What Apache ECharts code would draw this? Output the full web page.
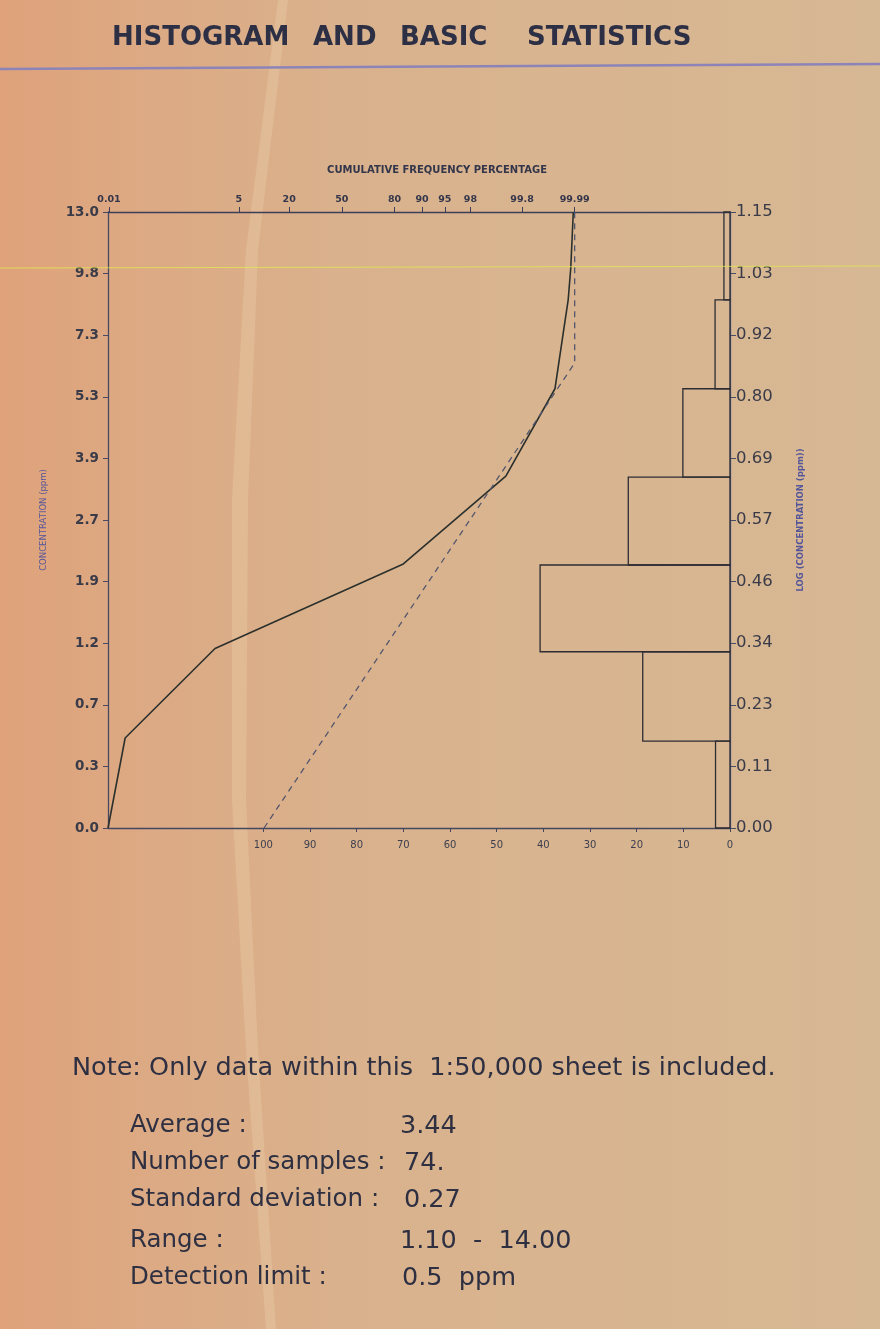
<!DOCTYPE html>
<html>
<head>
<meta charset="utf-8">
<script src="https://cdn.jsdelivr.net/npm/echarts@6/dist/echarts.min.js"></script>
<style>
html,body{margin:0;padding:0;background:#d9b08c;}
#chart{width:880px;height:1329px;}
</style>
</head>
<body>
<div id="chart"></div>
<script>
// ---------- data ----------
// top axis: cumulative frequency percentage (probability scale)
const topTickLabels = ['0.01', '5', '20', '50', '80', '90', '95', '98', '99.8', '99.99'];
const topTickPct    = [0.01, 5, 20, 50, 80, 90, 95, 98, 99.8, 99.99];
// left axis: concentration (ppm), right axis: log(concentration)
const concLabels = ['0.0', '0.3', '0.7', '1.2', '1.9', '2.7', '3.9', '5.3', '7.3', '9.8', '13.0'];
const logLabels  = ['0.00', '0.11', '0.23', '0.34', '0.46', '0.57', '0.69', '0.80', '0.92', '1.03', '1.15'];
// bottom axis: frequency percentage
const freqTicks = [0, 10, 20, 30, 40, 50, 60, 70, 80, 90, 100];
// histogram bins (log concentration) and frequency percentages
const binEdges   = [0, 0.162, 0.329, 0.491, 0.655, 0.820, 0.986, 1.15];
const binPercent = [3.1, 18.7, 40.7, 21.8, 10.1, 3.2, 1.3];
// solid cumulative curve: cumulative % vs log concentration
const solidPct = [0.0094, 0.0269, 2.14, 83.7, 99.56, 99.9668, 99.9797, 99.985, 99.9872, 99.9891];
const solidLog = [0, 0.168, 0.335, 0.493, 0.657, 0.820, 0.924, 0.986, 1.045, 1.15];
// dashed (fitted) cumulative line
const dashPct = [10.7, 99.99, 99.99];
const dashLog = [0, 0.868, 1.15];
// statistics
const statLabels = ['Average :', 'Number of samples :', 'Standard deviation :', 'Range :', 'Detection limit :'];
const statValues = ['3.44', '74.', '0.27', '1.10  -  14.00', '0.5  ppm'];

// inverse standard normal (probability-paper scale)
function probit(pp) {
  const p = pp / 100;
  const a = [-3.969683028665376e+01, 2.209460984245205e+02, -2.759285104469687e+02, 1.383577518672690e+02, -3.066479806614716e+01, 2.506628277459239e+00];
  const b = [-5.447609879822406e+01, 1.615858368580409e+02, -1.556989798598866e+02, 6.680131188771972e+01, -1.328068155288572e+01];
  const c = [-7.784894002430293e-03, -3.223964580411365e-01, -2.400758277161838e+00, -2.549732539343734e+00, 4.374664141464968e+00, 2.938163982698783e+00];
  const d = [7.784695709041462e-03, 3.224671290700398e-01, 2.445134137142996e+00, 3.754408661907416e+00];
  const pl = 0.02425;
  if (p < pl) {
    const q = Math.sqrt(-2 * Math.log(p));
    return (((((c[0]*q+c[1])*q+c[2])*q+c[3])*q+c[4])*q+c[5]) / ((((d[0]*q+d[1])*q+d[2])*q+d[3])*q+1);
  }
  if (p > 1 - pl) {
    const q = Math.sqrt(-2 * Math.log(1 - p));
    return -(((((c[0]*q+c[1])*q+c[2])*q+c[3])*q+c[4])*q+c[5]) / ((((d[0]*q+d[1])*q+d[2])*q+d[3])*q+1);
  }
  const q = p - 0.5, r = q * q;
  return (((((a[0]*r+a[1])*r+a[2])*r+a[3])*r+a[4])*r+a[5])*q / (((((b[0]*r+b[1])*r+b[2])*r+b[3])*r+b[4])*r+1);
}

const topTickZ = topTickPct.map(probit);
const solidData = solidPct.map((p, i) => [probit(p), solidLog[i]]);
const dashData = dashPct.map((p, i) => [probit(p), dashLog[i]]);
const histData = binPercent.map((v, i) => [binEdges[i], binEdges[i + 1], v]);

const LOG_STEP = 0.115;
const ink = '#33354a';
const blueInk = '#55559a';
const textFont = '"DejaVu Sans", sans-serif';

const chart = echarts.init(document.getElementById('chart'), null, {renderer: 'canvas'});

const statGraphics = [];
const statY = [1128, 1165, 1202, 1243, 1280];
const statValX = [400, 404, 404, 400, 402];
statLabels.forEach((t, i) => {
  statGraphics.push({type: 'text', left: 130, top: statY[i] - 15, silent: true,
    style: {text: t, font: '24.5px ' + textFont, fill: '#2e3042'}});
  statGraphics.push({type: 'text', left: statValX[i], top: statY[i] - 15, silent: true,
    style: {text: statValues[i], font: '25.5px ' + textFont, fill: '#2e3042'}});
});

const titleWords = [['HISTOGRAM', 112], ['AND', 313], ['BASIC', 400], ['STATISTICS', 527]];

const option = {
  animation: false,
  backgroundColor: 'transparent',
  grid: {left: 108, top: 212, width: 622, height: 616, containLabel: false},
  xAxis: [
    {
      type: 'value', position: 'top', min: -3.735, max: 6.2,
      name: 'CUMULATIVE FREQUENCY PERCENTAGE', nameLocation: 'middle', nameGap: 37,
      nameTextStyle: {color: ink, fontSize: 10, fontWeight: 'bold', fontFamily: 'DejaVu Sans', padding: [0, 0, 0, 36]},
      axisLine: {show: true, onZero: false, lineStyle: {color: '#3d3f58', width: 1.3}},
      axisTick: {show: true, length: 5, customValues: topTickZ, lineStyle: {color: '#3d3f58'}},
      axisLabel: {show: true, customValues: topTickZ, margin: 7, color: ink, fontSize: 9.5, fontWeight: 'bold', fontFamily: 'DejaVu Sans',
        formatter: v => { const i = topTickZ.findIndex(z => Math.abs(z - v) < 1e-6); return i >= 0 ? topTickLabels[i] : ''; }},
      splitLine: {show: false}
    },
    {
      type: 'value', position: 'bottom', min: 0, max: 133.3, inverse: true,
      axisLine: {show: true, onZero: false, lineStyle: {color: '#45475f', width: 1.3}},
      axisTick: {show: true, length: 4, customValues: freqTicks, lineStyle: {color: '#45475f'}},
      axisLabel: {show: true, customValues: freqTicks, margin: 12, color: '#3c3e4e', fontSize: 10, fontFamily: 'DejaVu Sans'},
      splitLine: {show: false}
    }
  ],
  yAxis: [
    {
      type: 'value', position: 'left', min: 0, max: 1.15, interval: LOG_STEP,
      name: 'CONCENTRATION (ppm)', nameLocation: 'middle', nameGap: 60,
      nameTextStyle: {color: blueInk, fontSize: 8.5, fontFamily: 'DejaVu Sans'},
      axisLine: {show: true, onZero: false, lineStyle: {color: '#474962', width: 1.3}},
      axisTick: {show: true, length: 5, lineStyle: {color: '#474962'}},
      axisLabel: {margin: 9, color: '#3a3b48', fontSize: 13.5, fontWeight: 'bold', fontFamily: 'DejaVu Sans',
        formatter: v => concLabels[Math.round(v / LOG_STEP)] || ''},
      splitLine: {show: false}
    },
    {
      type: 'value', position: 'right', min: 0, max: 1.15, interval: LOG_STEP,
      name: 'LOG (CONCENTRATION (ppm))', nameLocation: 'middle', nameGap: 66,
      nameTextStyle: {color: blueInk, fontSize: 8.5, fontWeight: 'bold', fontFamily: 'DejaVu Sans'},
      axisLine: {show: true, onZero: false, lineStyle: {color: '#5a5c8c', width: 1.3}},
      axisTick: {show: true, length: 6, lineStyle: {color: '#4a4c66'}},
      axisLabel: {margin: 6, color: '#3a3b48', fontSize: 16.5, fontFamily: 'DejaVu Sans',
        formatter: v => logLabels[Math.round(v / LOG_STEP)] || ''},
      splitLine: {show: false}
    }
  ],
  series: [
    {
      type: 'custom', name: 'Histogram', xAxisIndex: 1, yAxisIndex: 0,
      encode: {x: 2, y: [0, 1]},
      data: histData,
      renderItem: (params, api) => {
        const p1 = api.coord([0, api.value(0)]);
        const p2 = api.coord([api.value(2), api.value(1)]);
        return {
          type: 'rect',
          shape: {x: Math.min(p1[0], p2[0]), y: p2[1], width: Math.abs(p1[0] - p2[0]), height: p1[1] - p2[1]},
          style: {fill: 'none', stroke: '#2c2d33', lineWidth: 1.3}
        };
      }
    },
    {
      type: 'line', name: 'Cumulative', xAxisIndex: 0, yAxisIndex: 0,
      data: solidData, showSymbol: false, smooth: false,
      lineStyle: {color: '#2c302c', width: 1.6}
    },
    {
      type: 'line', name: 'Fitted', xAxisIndex: 0, yAxisIndex: 0,
      data: dashData, showSymbol: false,
      lineStyle: {color: '#55576e', width: 1.3, type: [6, 5]}
    }
  ],
  graphic: [
    {type: 'rect', z: -100, silent: true, shape: {x: 0, y: 0, width: 880, height: 1329},
      style: {fill: new echarts.graphic.LinearGradient(0, 0, 1, 0, [
        {offset: 0, color: '#dfa27a'}, {offset: 0.15, color: '#dca983'},
        {offset: 0.4, color: '#d9b28d'}, {offset: 1, color: '#d7b894'}])}},
    {type: 'polygon', z: -90, silent: true,
      shape: {points: [[278, 0], [288, 0], [258, 250], [248, 500], [246, 800], [258, 1050], [276, 1329], [266, 1329], [246, 1050], [232, 800], [232, 500], [246, 250]]},
      style: {fill: 'rgba(240,218,180,0.28)'}},
    {type: 'line', z: -50, silent: true, shape: {x1: 0, y1: 69, x2: 880, y2: 64},
      style: {stroke: '#8c84b8', lineWidth: 2.5}},
    {type: 'line', z: 50, silent: true, shape: {x1: 0, y1: 268, x2: 880, y2: 266},
      style: {stroke: 'rgba(225,235,80,0.75)', lineWidth: 1}},
    ...titleWords.map(w => ({type: 'text', left: w[1], top: 25, silent: true,
      style: {text: w[0], font: 'bold 26px "DejaVu Sans", sans-serif', fill: '#2d2f45'}})),
    {type: 'text', left: 72, top: 1055, silent: true,
      style: {text: 'Note: Only data within this  1:50,000 sheet is included.', font: '25.5px ' + textFont, fill: '#2e3042'}},
    ...statGraphics
  ]
};
chart.setOption(option);
</script>
</body>
</html>
